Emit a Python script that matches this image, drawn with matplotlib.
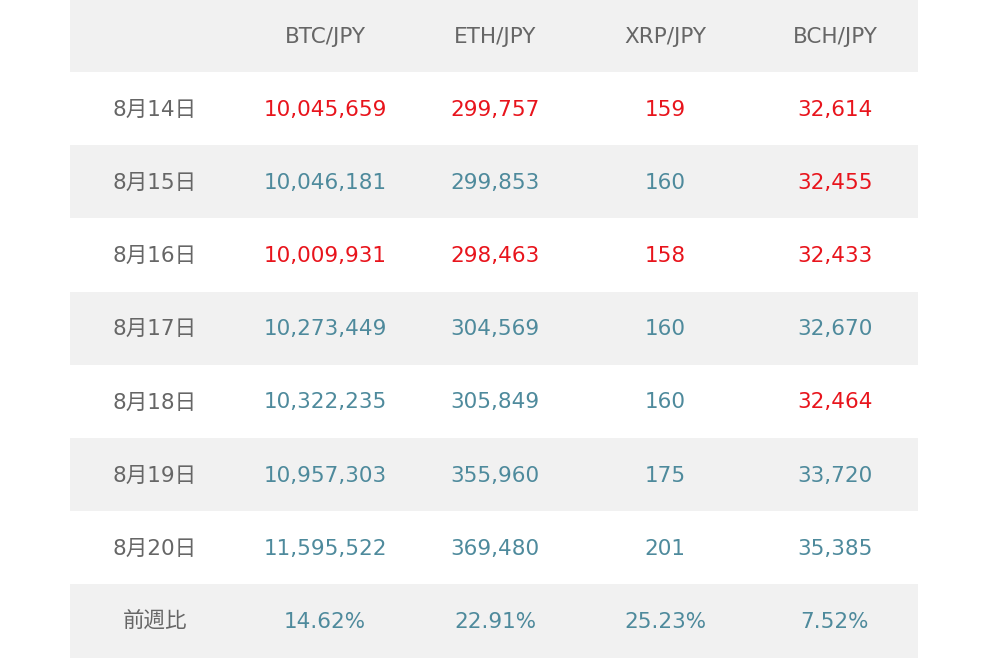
import matplotlib.pyplot as plt
from matplotlib.patches import Rectangle

plt.rcParams['font.family'] = ['DejaVu Sans', 'Noto Sans CJK JP']

headers = ["", "BTC/JPY", "ETH/JPY", "XRP/JPY", "BCH/JPY"]
dates = ["8月14日", "8月15日", "8月16日", "8月17日", "8月18日", "8月19日", "8月20日", "前週比"]
btc = ["10,045,659", "10,046,181", "10,009,931", "10,273,449", "10,322,235", "10,957,303", "11,595,522", "14.62%"]
eth = ["299,757", "299,853", "298,463", "304,569", "305,849", "355,960", "369,480", "22.91%"]
xrp = ["159", "160", "158", "160", "160", "175", "201", "25.23%"]
bch = ["32,614", "32,455", "32,433", "32,670", "32,464", "33,720", "35,385", "7.52%"]
# 1 = red (down), 0 = teal
red_btc = [1, 0, 1, 0, 0, 0, 0, 0]
red_eth = [1, 0, 1, 0, 0, 0, 0, 0]
red_xrp = [1, 0, 1, 0, 0, 0, 0, 0]
red_bch = [1, 1, 1, 0, 1, 0, 0, 0]

RED = "#e8141c"
TEAL = "#4e8a9c"
GRAY = "#666666"
BG = "#f1f1f1"

fig = plt.figure(figsize=(9.9, 6.6), dpi=100)
ax = fig.add_axes([0, 0, 1, 1])
ax.set_xlim(0, 990)
ax.set_ylim(660, 0)
ax.axis("off")

x0, x1 = 70, 918
row_h = 73.2
col_x = [155, 325, 495, 665, 835]
fs = 15.5

# header
ax.add_patch(Rectangle((x0, 0), x1 - x0, 72, color=BG, lw=0))
for x, h in zip(col_x, headers):
    ax.text(x, 37, h, ha="center", va="center", fontsize=fs, color=GRAY)

for i in range(len(dates)):
    top = 72 + i * row_h
    if i % 2 == 1:
        ax.add_patch(Rectangle((x0, top), x1 - x0, row_h, color=BG, lw=0))
    yc = top + row_h / 2 + 1
    ax.text(col_x[0], yc, dates[i], ha="center", va="center", fontsize=fs, color=GRAY)
    for x, vals, reds in zip(col_x[1:], [btc, eth, xrp, bch], [red_btc, red_eth, red_xrp, red_bch]):
        ax.text(x, yc, vals[i], ha="center", va="center", fontsize=fs,
                color=RED if reds[i] else TEAL)

fig.savefig("out.png", dpi=100)
